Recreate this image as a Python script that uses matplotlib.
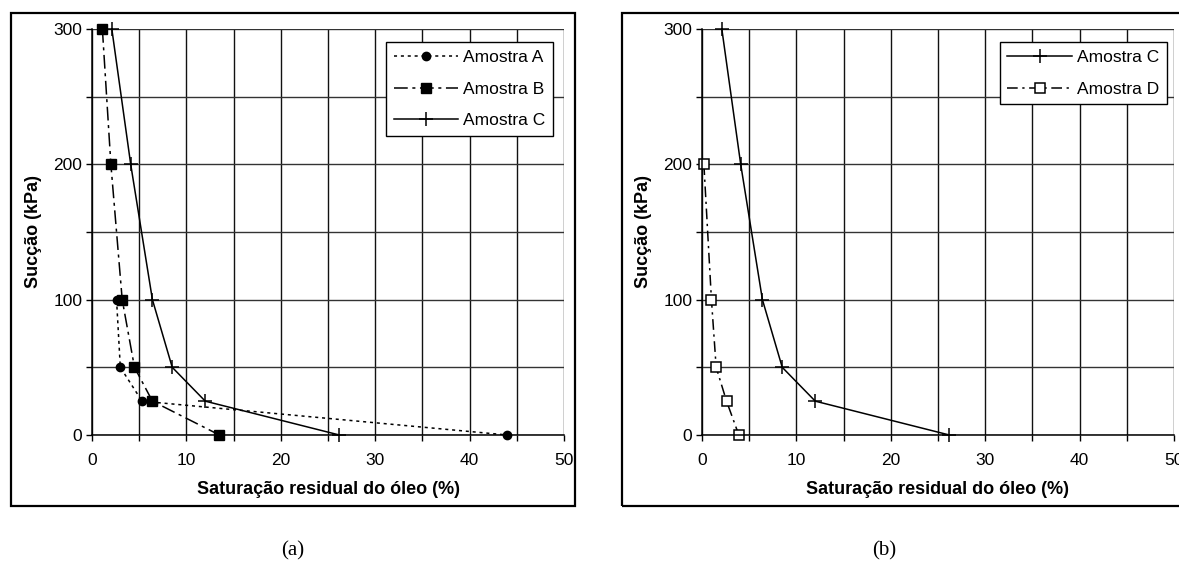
import numpy as np
import matplotlib.pyplot as plt
from matplotlib.patches import Rectangle
from matplotlib.ticker import MultipleLocator

plt.rcParams['font.family'] = ['Liberation Sans', 'DejaVu Sans']

# suction (kPa) vs residual oil saturation (%)
suc_a = [100, 50, 25, 0]
sat_a = [2.6, 3.0, 5.3, 44.0]

suc_b = [300, 200, 100, 50, 25, 0]
sat_b = [1.1, 2.0, 3.2, 4.5, 6.4, 13.5]

suc_c = [300, 200, 100, 50, 25, 0]
sat_c = [2.1, 4.1, 6.4, 8.5, 12.0, 26.2]

suc_d = [200, 100, 50, 25, 0]
sat_d = [0.2, 1.0, 1.5, 2.6, 3.9]

xlabel = 'Saturação residual do óleo (%)'
ylabel = 'Sucção (kPa)'

fig = plt.figure(figsize=(11.79, 5.63), dpi=100)

# panel frames
fig.patches.append(Rectangle((11 / 1179, 1 - 506 / 563), 564 / 1179, 493 / 563,
                             transform=fig.transFigure, fill=False, lw=1.6, ec='black'))
fig.patches.append(Rectangle((622 / 1179, 1 - 506 / 563), 0.6, 493 / 563,
                             transform=fig.transFigure, fill=False, lw=1.6, ec='black'))

ax1 = fig.add_axes([92 / 1179, 1 - 435 / 563, 472 / 1179, 406 / 563])
ax2 = fig.add_axes([702 / 1179, 1 - 435 / 563, 472 / 1179, 406 / 563])


def style(ax):
    ax.set_xlim(0, 50)
    ax.set_ylim(0, 300)
    ax.xaxis.set_major_locator(MultipleLocator(10))
    ax.xaxis.set_minor_locator(MultipleLocator(5))
    ax.yaxis.set_major_locator(MultipleLocator(100))
    ax.yaxis.set_minor_locator(MultipleLocator(50))
    ax.grid(True, which='both', axis='x', color='#111111', lw=1.0)
    ax.grid(True, which='both', axis='y', color='#333333', lw=1.0)
    ax.set_axisbelow(True)
    for s in ['top', 'right']:
        ax.spines[s].set_visible(False)
    for s in ['left', 'bottom']:
        ax.spines[s].set_linewidth(1.1)
    ax.tick_params(which='both', direction='out', length=4, width=1.0,
                   labelsize=12.5, pad=3)
    ax.tick_params(axis='x', which='both', pad=9)
    ax.set_xlabel(xlabel, fontsize=13, fontweight='bold', labelpad=9)
    ax.set_ylabel(ylabel, fontsize=13, fontweight='bold', labelpad=8)


style(ax1)
style(ax2)

ax1.plot(sat_a, suc_a, color='black', lw=1.1, ls=(0, (2, 2.5)), marker='o',
         ms=6, mfc='black', mec='black', label='Amostra A', clip_on=False)
ax1.plot(sat_b, suc_b, color='black', lw=1.1, ls=(0, (9, 3, 2, 3)), marker='s',
         ms=6.5, mfc='black', mec='black', label='Amostra B', clip_on=False)
ax1.plot(sat_c, suc_c, color='black', lw=1.1, ls='-', marker='+',
         ms=10, mew=1.1, label='Amostra C', clip_on=False)

ax2.plot(sat_c, suc_c, color='black', lw=1.1, ls='-', marker='+',
         ms=10, mew=1.1, label='Amostra C', clip_on=False)
ax2.plot(sat_d, suc_d, color='black', lw=1.1, ls=(0, (7, 3, 1.5, 3)), marker='s',
         ms=7, mfc='white', mec='black', mew=1.1, label='Amostra D', clip_on=False)

for ax, right in [(ax1, 0.977), (ax2, 0.985)]:
    leg = ax.legend(loc='upper right', bbox_to_anchor=(right, 0.968), fontsize=12.5,
                    handlelength=3.7, handletextpad=0.3, labelspacing=0.95,
                    borderpad=0.45, borderaxespad=0, fancybox=False, framealpha=1)
    leg.get_frame().set_edgecolor('black')
    leg.get_frame().set_linewidth(1.0)

fig.text(293 / 1179, 1 - 551 / 563, '(a)', ha='center', va='center',
         fontsize=15, family='Liberation Serif')
fig.text(884 / 1179, 1 - 551 / 563, '(b)', ha='center', va='center',
         fontsize=15, family='Liberation Serif')

fig.savefig('out.png', dpi=100)
